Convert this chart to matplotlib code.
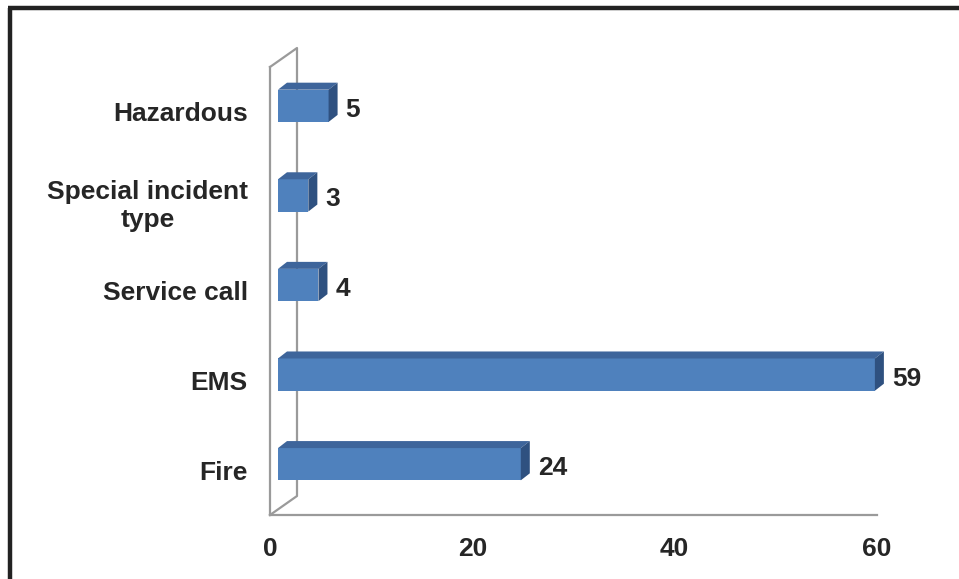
import matplotlib
matplotlib.use('Agg')
import matplotlib.pyplot as plt
from matplotlib.patches import Polygon
from matplotlib.lines import Line2D
import matplotlib.transforms as mtransforms

# chart data
categories = ['Fire', 'EMS', 'Service call', 'Special incident\ntype', 'Hazardous']
values = [24, 59, 4, 3, 5]
xticks = [0, 20, 40, 60]

front_col = '#4F81BD'
top_col = '#3E659B'
side_col = '#2F5180'
wall_col = '#9A9A9A'
text_col = '#262626'

plt.rcParams['font.family'] = ['Liberation Sans', 'DejaVu Sans']

W, H = 959, 579
fig = plt.figure(figsize=(W / 100, H / 100), dpi=100)
fig.patch.set_facecolor('white')

# axes = front plane of the 3d box, in pixels
ax = fig.add_axes([270 / W, (H - 515) / H, 607 / W, 448 / H])
ax.set_xlim(0, 60)
ax.set_ylim(0, 5)
ax.patch.set_alpha(0)
for s in ['top', 'right']:
    ax.spines[s].set_visible(False)
for s in ['left', 'bottom']:
    ax.spines[s].set_color(wall_col)
    ax.spines[s].set_linewidth(1.6)

ypos = [i + 0.5 for i in range(len(categories))]
ax.set_yticks(ypos)
ax.set_yticklabels(categories, fontsize=19, fontweight='bold', color=text_col,
                   multialignment='center')
ax.set_xticks(xticks)
ax.set_xticklabels([str(t) for t in xticks], fontsize=19, fontweight='bold', color=text_col)
ax.tick_params(axis='y', length=0, pad=16)
ax.tick_params(axis='x', length=0, pad=16)

# back wall (depth offset in pixels)
wdx, wdy = 27, 19
fig.canvas.draw()
p0 = ax.transAxes.transform((0, 0))
p1 = ax.transAxes.transform((0, 1))
wall = [(p0[0], p0[1]), (p0[0] + wdx, p0[1] + wdy), (p1[0] + wdx, p1[1] + wdy), (p1[0], p1[1])]
fig.add_artist(Line2D([p[0] for p in wall], [p[1] for p in wall], transform=None,
                      color=wall_col, lw=1.6, zorder=1))

# 3d bars
bar_h = 0.36
shift_x, shift_y = 8, 6  # front face offset from the front plane
bdx, bdy = 9, 7          # bar depth
for y, v in zip(ypos, values):
    x0, yb = ax.transData.transform((0, y - bar_h / 2))
    x1, yt = ax.transData.transform((v, y + bar_h / 2))
    x0 += shift_x; x1 += shift_x
    yb += shift_y; yt += shift_y
    front = Polygon([(x0, yb), (x1, yb), (x1, yt), (x0, yt)], closed=True,
                    transform=None, facecolor=front_col, edgecolor='none', zorder=3)
    top = Polygon([(x0, yt), (x1, yt), (x1 + bdx, yt + bdy), (x0 + bdx, yt + bdy)], closed=True,
                  transform=None, facecolor=top_col, edgecolor='none', zorder=3)
    side = Polygon([(x1, yb), (x1 + bdx, yb + bdy), (x1 + bdx, yt + bdy), (x1, yt)], closed=True,
                   transform=None, facecolor=side_col, edgecolor='none', zorder=3)
    for p in (front, top, side):
        fig.add_artist(p)
    off = mtransforms.offset_copy(ax.transData, fig=fig, x=shift_x + 17, y=shift_y - 4, units='dots')
    ax.text(v, y, str(v), transform=off, ha='left', va='center', fontsize=19,
            fontweight='bold', color=text_col)

# outer frame (left and top dark border)
fig.add_artist(Line2D([10 / W, 10 / W], [0, 1 - 8 / H], transform=fig.transFigure,
                      color='#222222', lw=3.2, solid_capstyle='butt'))
fig.add_artist(Line2D([8 / W, 1], [1 - 8 / H, 1 - 8 / H], transform=fig.transFigure,
                      color='#222222', lw=3.2, solid_capstyle='butt'))

fig.savefig('out.png', dpi=100)
